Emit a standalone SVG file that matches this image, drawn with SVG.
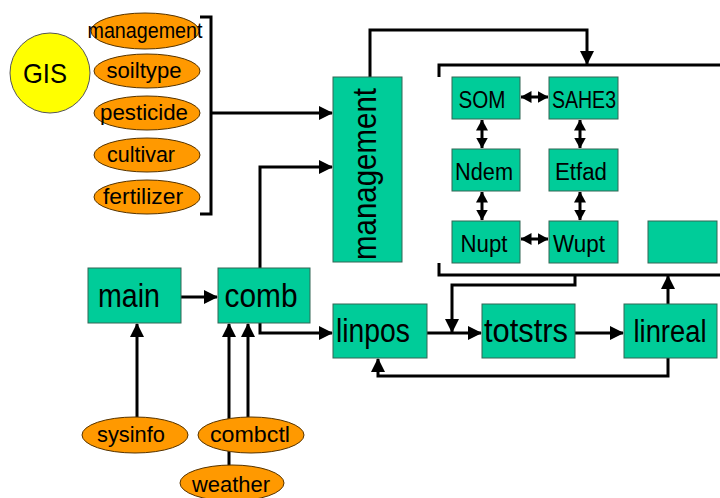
<svg xmlns="http://www.w3.org/2000/svg" width="720" height="498" viewBox="0 0 720 498">
<style>
.box{fill:#00CC99;stroke:#336655;stroke-width:1}
.ell{fill:#FF9900;stroke:#553300;stroke-width:1}
.t{font-family:"Liberation Sans",Arial,sans-serif;fill:#000}
.big{font-size:34px}
.mid{font-size:23px}
.sm{font-size:22px}
.ln{fill:none;stroke:#000;stroke-width:3}
</style>
<defs>
<marker id="ah" markerWidth="14" markerHeight="14" refX="13" refY="7" orient="auto" markerUnits="userSpaceOnUse">
<path d="M0,0 L14,7 L0,14 Z" fill="#000"/>
</marker>
<marker id="as" markerWidth="11" markerHeight="12" refX="10.5" refY="6" orient="auto-start-reverse" markerUnits="userSpaceOnUse">
<path d="M0,0 L11,6 L0,12 Z" fill="#000"/>
</marker>
</defs>

<g id="connectors">
<path class="ln" d="M200,17 H211 V214 H200"/>
<path class="ln" d="M211,113 H332" marker-end="url(#ah)"/>
<path class="ln" d="M260,268 V167 H332" marker-end="url(#ah)"/>
<path class="ln" d="M370,77 V30 H587 V64" marker-end="url(#ah)"/>
<path class="ln" d="M439,77 V65 H720"/>
<path class="ln" d="M439,263 V275 H720"/>
<path class="ln" d="M521,97 H548" marker-start="url(#as)" marker-end="url(#as)"/>
<path class="ln" d="M482,120 V148" marker-start="url(#as)" marker-end="url(#as)"/>
<path class="ln" d="M580,120 V148" marker-start="url(#as)" marker-end="url(#as)"/>
<path class="ln" d="M482,192 V220" marker-start="url(#as)" marker-end="url(#as)"/>
<path class="ln" d="M580,192 V220" marker-start="url(#as)" marker-end="url(#as)"/>
<path class="ln" d="M521,239 H548" marker-start="url(#as)" marker-end="url(#as)"/>
<path class="ln" d="M181,297 H217" marker-end="url(#ah)"/>
<path class="ln" d="M260,323 V333 H332" marker-end="url(#ah)"/>
<path class="ln" d="M427,333 H481" marker-end="url(#ah)"/>
<path class="ln" d="M575,333 H623" marker-end="url(#ah)"/>
<path class="ln" d="M575,275 V285 H452 V332" marker-end="url(#ah)"/>
<path class="ln" d="M668,304 V276" marker-end="url(#ah)"/>
<path class="ln" d="M668,358 V376 H378 V359" marker-end="url(#ah)"/>
<path class="ln" d="M137,417 V324" marker-end="url(#ah)"/>
<path class="ln" d="M229,466 V324" marker-end="url(#ah)"/>
<path class="ln" d="M248,417 V324" marker-end="url(#ah)"/>
</g>

<g id="GIS"><circle cx="50" cy="73" r="40" fill="#FFFF00" stroke="#555" stroke-width="1"/><text class="t" x="45" y="83" font-size="28" text-anchor="middle" textLength="44" lengthAdjust="spacingAndGlyphs">GIS</text></g>
<g id="e-management"><ellipse class="ell" cx="145" cy="31" rx="54" ry="18"/><text class="t sm" x="145" y="38" text-anchor="middle" textLength="115" lengthAdjust="spacingAndGlyphs">management</text></g>
<g id="e-soiltype"><ellipse class="ell" cx="147" cy="71" rx="53" ry="17"/><text class="t sm" x="144" y="78" text-anchor="middle" textLength="75" lengthAdjust="spacingAndGlyphs">soiltype</text></g>
<g id="e-pesticide"><ellipse class="ell" cx="147" cy="113" rx="53" ry="17"/><text class="t sm" x="144" y="120" text-anchor="middle" textLength="88" lengthAdjust="spacingAndGlyphs">pesticide</text></g>
<g id="e-cultivar"><ellipse class="ell" cx="147" cy="155" rx="53" ry="17"/><text class="t sm" x="141" y="162" text-anchor="middle" textLength="68" lengthAdjust="spacingAndGlyphs">cultivar</text></g>
<g id="e-fertilizer"><ellipse class="ell" cx="147" cy="197" rx="53" ry="17"/><text class="t sm" x="143" y="204" text-anchor="middle" textLength="80" lengthAdjust="spacingAndGlyphs">fertilizer</text></g>

<g id="management"><rect class="box" x="333" y="77" width="69" height="185"/><text class="t big" transform="translate(376,174) rotate(-90)" text-anchor="middle" textLength="172" lengthAdjust="spacingAndGlyphs">management</text></g>

<g id="SOM"><rect class="box" x="452" y="77" width="68" height="42"/><text class="t mid" x="482" y="108" text-anchor="middle" textLength="47" lengthAdjust="spacingAndGlyphs">SOM</text></g>
<g id="SAHE3"><rect class="box" x="549" y="77" width="69" height="42"/><text class="t mid" x="584" y="108" text-anchor="middle" textLength="64" lengthAdjust="spacingAndGlyphs">SAHE3</text></g>
<g id="Ndem"><rect class="box" x="452" y="149" width="68" height="42"/><text class="t mid" x="484" y="180" text-anchor="middle" textLength="58" lengthAdjust="spacingAndGlyphs">Ndem</text></g>
<g id="Etfad"><rect class="box" x="549" y="149" width="69" height="42"/><text class="t mid" x="581" y="180" text-anchor="middle" textLength="52" lengthAdjust="spacingAndGlyphs">Etfad</text></g>
<g id="Nupt"><rect class="box" x="452" y="221" width="68" height="42"/><text class="t mid" x="484" y="252" text-anchor="middle" textLength="47" lengthAdjust="spacingAndGlyphs">Nupt</text></g>
<g id="Wupt"><rect class="box" x="549" y="221" width="69" height="42"/><text class="t mid" x="579" y="252" text-anchor="middle" textLength="52" lengthAdjust="spacingAndGlyphs">Wupt</text></g>
<g id="blank"><rect class="box" x="648" y="221" width="69" height="42"/></g>

<g id="main"><rect class="box" x="88" y="268" width="93" height="55"/><text class="t big" x="129" y="307" text-anchor="middle" textLength="62" lengthAdjust="spacingAndGlyphs">main</text></g>
<g id="comb"><rect class="box" x="218" y="268" width="92" height="55"/><text class="t big" x="261" y="307" text-anchor="middle" textLength="73" lengthAdjust="spacingAndGlyphs">comb</text></g>
<g id="linpos"><rect class="box" x="333" y="304" width="94" height="54"/><text class="t big" x="373" y="342" text-anchor="middle" textLength="74" lengthAdjust="spacingAndGlyphs">linpos</text></g>
<g id="totstrs"><rect class="box" x="482" y="304" width="93" height="54"/><text class="t big" x="526" y="342" text-anchor="middle" textLength="84" lengthAdjust="spacingAndGlyphs">totstrs</text></g>
<g id="linreal"><rect class="box" x="624" y="304" width="93" height="54"/><text class="t" font-size="31" x="670" y="342" text-anchor="middle" textLength="73" lengthAdjust="spacingAndGlyphs">linreal</text></g>

<g id="sysinfo"><ellipse class="ell" cx="135" cy="435" rx="53" ry="18"/><text class="t sm" x="131" y="442" text-anchor="middle" textLength="68" lengthAdjust="spacingAndGlyphs">sysinfo</text></g>
<g id="combctl"><ellipse class="ell" cx="251" cy="435" rx="53" ry="18"/><text class="t sm" x="250" y="442" text-anchor="middle" textLength="80" lengthAdjust="spacingAndGlyphs">combctl</text></g>
<g id="weather"><ellipse class="ell" cx="232" cy="483" rx="52" ry="18"/><text class="t sm" x="231" y="492" text-anchor="middle" textLength="78" lengthAdjust="spacingAndGlyphs">weather</text></g>
</svg>
